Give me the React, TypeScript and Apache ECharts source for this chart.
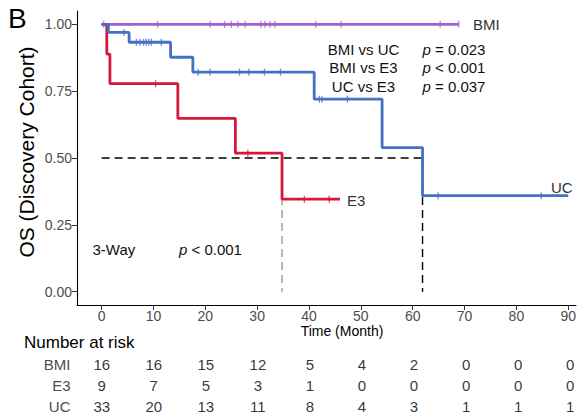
import React, { useEffect, useRef } from "react";
import * as echarts from "echarts";

const FONT = '"Liberation Sans", Arial, Helvetica, sans-serif';

// Kaplan-Meier step data (time in months, survival)
const bmiTimes = [0, 68.9];
const bmiSurv = [1, 1];
const bmiCensor = [0.4, 10.8, 20.9, 23.7, 25, 26.3, 27.7, 30.7, 31.5, 32.5, 33.4, 41.3, 46.2, 65.3, 68.9];

const e3Times = [0, 1.0, 1.6, 14.7, 25.8, 34.8, 46];
const e3Surv = [1, 0.889, 0.778, 0.648, 0.518, 0.346, 0.346];
const e3Censor = [10.4, 28.2, 39.1, 43.9];

const ucTimes = [0, 1.3, 5.3, 13.3, 17.6, 41.0, 54.1, 61.9, 90];
const ucSurv = [1, 0.97, 0.933, 0.877, 0.821, 0.72, 0.539, 0.359, 0.359];
const ucCensor = [4.3, 6.7, 7.4, 8.1, 8.6, 9.1, 9.6, 11.5, 18.6, 20.9, 26.6, 28.4, 31.4, 34.5, 42.0, 42.5, 47.4, 64.9, 84.8];

// median survival reference lines
const medianLevel = 0.5;
const medianE3 = 34.8;
const medianUC = 61.9;

// axis ticks
const xTicks = [0, 10, 20, 30, 40, 50, 60, 70, 80, 90];
const yTicks = [0, 0.25, 0.5, 0.75, 1];

// number at risk table
const riskGroups = ["BMI", "E3", "UC"];
const riskTimes = [0, 10, 20, 30, 40, 50, 60, 70, 80, 90];
const riskBMI = [16, 16, 15, 12, 5, 4, 2, 0, 0, 0];
const riskE3 = [9, 7, 5, 3, 1, 0, 0, 0, 0, 0];
const riskUC = [33, 20, 13, 11, 8, 4, 3, 1, 1, 1];

// annotations
const pairLabels = ["BMI vs UC", "BMI vs E3", "UC vs E3"];
const pairOps = ["=", "<", "="];
const pairP = ["0.023", "0.001", "0.037"];

const COLORS = { BMI: "#9d5fd3", E3: "#d6173b", UC: "#4471c4" };

function survAt(times: number[], surv: number[], t: number) {
  let s = surv[0];
  for (let i = 0; i < times.length; i++) {
    if (times[i] <= t) s = surv[i];
  }
  return s;
}

function stepSeries(name: string, times: number[], surv: number[], color: string, z: number) {
  return {
    type: "line",
    name,
    xAxisIndex: 0,
    yAxisIndex: 0,
    step: "end",
    symbol: "none",
    z,
    lineStyle: { color, width: 2.8 },
    data: times.map((t, i) => [t, surv[i]]),
  };
}

function censorSeries(times: number[], surv: number[], cens: number[], color: string, z: number) {
  return {
    type: "scatter",
    xAxisIndex: 0,
    yAxisIndex: 0,
    symbol: "rect",
    symbolSize: [1.3, 7],
    z,
    itemStyle: { color },
    data: cens.map((t) => [t, survAt(times, surv, t)]),
  };
}

export default function App() {
  const ref = useRef<HTMLDivElement>(null);
  useEffect(() => {
    if (!ref.current) return;
    const chart = echarts.init(ref.current, null, { renderer: "svg" });
    const dash = { type: [8, 5] as any, width: 1.4 };
    const riskData: any[] = [];
    const rows = [riskBMI, riskE3, riskUC];
    rows.forEach((row, r) => {
      row.forEach((v, i) => riskData.push([riskTimes[i], riskGroups[r], v]));
    });

    const graphic: any[] = [
      {
        type: "text",
        x: 8,
        y: 18.5,
        style: { text: "B", font: `28px ${FONT}`, fill: "#000", align: "left", verticalAlign: "middle" },
      },
      {
        type: "text",
        x: 26,
        y: 152,
        rotation: Math.PI / 2,
        style: {
          text: "OS (Discovery Cohort)",
          font: `21px ${FONT}`,
          fill: "#000",
          align: "center",
          verticalAlign: "middle",
        },
      },
      {
        type: "text",
        x: 342,
        y: 331,
        style: { text: "Time (Month)", font: `14px ${FONT}`, fill: "#000", align: "center", verticalAlign: "middle" },
      },
      {
        type: "text",
        x: 24,
        y: 342.5,
        style: { text: "Number at risk", font: `17px ${FONT}`, fill: "#000", align: "left", verticalAlign: "middle" },
      },
      {
        type: "text",
        x: 473,
        y: 24.5,
        style: { text: "BMI", font: `15px ${FONT}`, fill: "#333", align: "left", verticalAlign: "middle" },
      },
      {
        type: "text",
        x: 347,
        y: 200,
        style: { text: "E3", font: `15px ${FONT}`, fill: "#333", align: "left", verticalAlign: "middle" },
      },
      {
        type: "text",
        x: 551,
        y: 187.5,
        style: { text: "UC", font: `15px ${FONT}`, fill: "#333", align: "left", verticalAlign: "middle" },
      },
      {
        type: "text",
        x: 92.5,
        y: 249,
        style: { text: "3-Way", font: `15px ${FONT}`, fill: "#111", align: "left", verticalAlign: "middle" },
      },
      {
        type: "text",
        x: 179,
        y: 249,
        style: {
          text: "{i|p} < 0.001",
          font: `15px ${FONT}`,
          fill: "#111",
          align: "left",
          verticalAlign: "middle",
          rich: { i: { fontStyle: "italic", fontSize: 15, fontFamily: FONT, fill: "#111" } },
        },
      },
    ];
    pairLabels.forEach((lab, i) => {
      const y = 49.3 + i * 18.4;
      graphic.push({
        type: "text",
        x: 363.5,
        y,
        style: { text: lab, font: `15px ${FONT}`, fill: "#111", align: "center", verticalAlign: "middle" },
      });
      graphic.push({
        type: "text",
        x: 422.5,
        y,
        style: {
          text: `{i|p} ${pairOps[i]} ${pairP[i]}`,
          font: `15px ${FONT}`,
          fill: "#111",
          align: "left",
          verticalAlign: "middle",
          rich: { i: { fontStyle: "italic", fontSize: 15, fontFamily: FONT, fill: "#111" } },
        },
      });
    });

    chart.setOption({
      animation: false,
      textStyle: { fontFamily: FONT },
      grid: [
        { left: 77, top: 11, width: 501, height: 294, containLabel: false },
        { left: 77, top: 353.7, width: 501, height: 63.6, containLabel: false },
      ],
      xAxis: [
        {
          type: "value",
          gridIndex: 0,
          min: -4.75,
          max: 91.5,
          splitLine: { show: false },
          axisLine: { show: true, onZero: false, lineStyle: { color: "#000", width: 1.1 } },
          axisTick: { show: true, length: 5, customValues: xTicks, lineStyle: { color: "#333" } },
          axisLabel: {
            customValues: xTicks,
            margin: 4,
            fontSize: 14,
            color: "#4d4d4d",
            fontFamily: FONT,
          },
        },
        {
          type: "value",
          gridIndex: 1,
          min: -4.75,
          max: 91.5,
          show: false,
          splitLine: { show: false },
        },
      ],
      yAxis: [
        {
          type: "value",
          gridIndex: 0,
          min: -0.05,
          max: 1.05,
          splitLine: { show: false },
          axisLine: { show: true, onZero: false, lineStyle: { color: "#000", width: 1.1 } },
          axisTick: { show: true, length: 5, customValues: yTicks, lineStyle: { color: "#333" } },
          axisLabel: {
            customValues: yTicks,
            margin: 5,
            fontSize: 14,
            color: "#4d4d4d",
            fontFamily: FONT,
            formatter: (v: number) => v.toFixed(2),
          },
        },
        {
          type: "category",
          gridIndex: 1,
          data: riskGroups,
          inverse: true,
          axisLine: { show: false },
          axisTick: { show: false },
          splitLine: { show: false },
          axisLabel: { fontSize: 15, color: "#4d4d4d", margin: 6.5, fontFamily: FONT },
        },
      ],
      series: [
        {
          type: "line",
          xAxisIndex: 0,
          yAxisIndex: 0,
          symbol: "none",
          z: 1,
          lineStyle: { ...dash, color: "#000" },
          data: [
            [0, medianLevel],
            [medianUC, medianLevel],
          ],
        },
        {
          type: "line",
          xAxisIndex: 0,
          yAxisIndex: 0,
          symbol: "none",
          z: 1,
          lineStyle: { ...dash, color: "#999" },
          data: [
            [medianE3, medianLevel],
            [medianE3, 0],
          ],
        },
        {
          type: "line",
          xAxisIndex: 0,
          yAxisIndex: 0,
          symbol: "none",
          z: 1,
          lineStyle: { ...dash, color: "#000" },
          data: [
            [medianUC, medianLevel],
            [medianUC, 0],
          ],
        },
        stepSeries("BMI", bmiTimes, bmiSurv, COLORS.BMI, 2),
        censorSeries(bmiTimes, bmiSurv, bmiCensor, COLORS.BMI, 2),
        stepSeries("E3", e3Times, e3Surv, COLORS.E3, 3),
        censorSeries(e3Times, e3Surv, e3Censor, COLORS.E3, 3),
        stepSeries("UC", ucTimes, ucSurv, COLORS.UC, 4),
        censorSeries(ucTimes, ucSurv, ucCensor, COLORS.UC, 4),
        {
          type: "scatter",
          xAxisIndex: 1,
          yAxisIndex: 1,
          symbol: "circle",
          symbolSize: 1,
          itemStyle: { color: "rgba(0,0,0,0)" },
          label: {
            show: true,
            position: "inside",
            formatter: (p: any) => String(p.value[2]),
            fontSize: 15,
            color: "#000",
            fontFamily: FONT,
          },
          data: riskData,
        },
      ],
      graphic,
    });
    return () => chart.dispose();
  }, []);
  return <div ref={ref} style={{ position: "absolute", left: 0, top: 0, width: 579, height: 418 }} />;
}
